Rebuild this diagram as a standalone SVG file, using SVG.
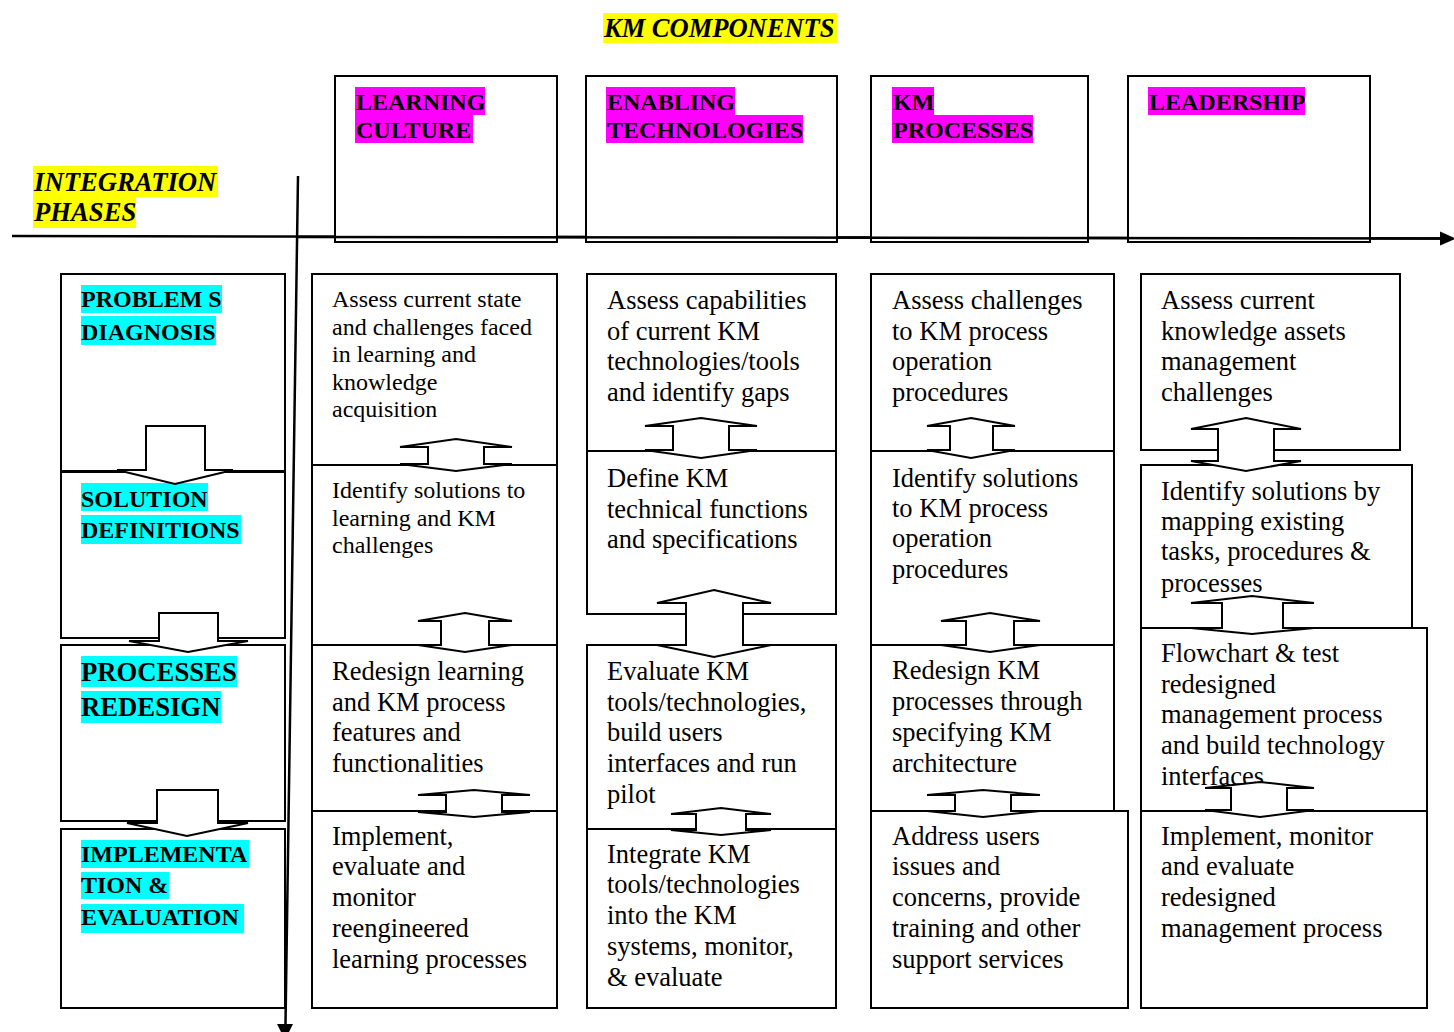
<svg xmlns="http://www.w3.org/2000/svg" width="1454" height="1032" viewBox="0 0 1454 1032" font-family="Liberation Serif, Times New Roman, serif">
<style>
.bx{fill:#fff;stroke:#000;stroke-width:2}
.ar{fill:#fff;stroke:#000;stroke-width:2;stroke-linejoin:miter}
.ax{stroke:#000;stroke-width:2.5;fill:none}
text{font-family:'Liberation Serif',serif;fill:#000}
.t24{font-size:24px}
.t26{font-size:26.5px}
.hb{font-size:24px;font-weight:bold}
.hb26{font-size:26.7px;font-weight:bold}
.bi{font-weight:bold;font-style:italic}
.mg{fill:#ff00ff}
.cy{fill:#00ffff}
.yl{fill:#ffff00}
</style>
<rect width="1454" height="1032" fill="#fff"/>

<g id="title">
<rect class="yl" x="603" y="13" width="234" height="30"/>
<text class="bi" x="604" y="37" font-size="26.5" font-family="Liberation Serif">KM COMPONENTS</text>
</g>
<g id="integration-phases">
<rect class="yl" x="33" y="166" width="185" height="31"/>
<rect class="yl" x="33" y="197" width="103" height="31"/>
<text class="bi" x="34" y="191" font-size="26.7" font-family="Liberation Serif">INTEGRATION</text>
<text class="bi" x="34" y="221" font-size="26.7" font-family="Liberation Serif">PHASES</text>
</g>

<g id="axes">
<line class="ax" x1="12" y1="236" x2="1440" y2="238.5"/>
<path d="M1440,231.5 L1456,238.7 L1440,245.5 Z" fill="#000"/>
<line class="ax" x1="298" y1="176" x2="285.5" y2="1024"/>
<path d="M277,1024 L293,1024 L285,1040 Z" fill="#000"/>
</g>

<g id="hdr-learning-culture">
<rect class="bx" x="335" y="76" width="222" height="166"/>
<rect class="mg" x="355" y="87" width="130" height="28"/>
<rect class="mg" x="355" y="115" width="118" height="28"/>
<text class="hb" x="356" y="110" font-family="Liberation Serif">LEARNING</text>
<text class="hb" x="356" y="138" font-family="Liberation Serif">CULTURE</text>
</g>
<g id="hdr-enabling-technologies">
<rect class="bx" x="586" y="76" width="251" height="166"/>
<rect class="mg" x="606" y="87" width="129" height="28"/>
<rect class="mg" x="606" y="115" width="197" height="28"/>
<text class="hb" x="607" y="110" font-family="Liberation Serif">ENABLING</text>
<text class="hb" x="607" y="138" font-family="Liberation Serif">TECHNOLOGIES</text>
</g>
<g id="hdr-km-processes">
<rect class="bx" x="871" y="76" width="217" height="166"/>
<rect class="mg" x="892" y="87" width="42" height="28"/>
<rect class="mg" x="892" y="115" width="141" height="28"/>
<text class="hb" x="893" y="110" font-family="Liberation Serif">KM</text>
<text class="hb" x="893" y="138" font-family="Liberation Serif">PROCESSES</text>
</g>
<g id="hdr-leadership">
<rect class="bx" x="1128" y="76" width="242" height="166"/>
<rect class="mg" x="1148" y="87" width="157" height="28"/>
<text class="hb" x="1149" y="110" font-family="Liberation Serif">LEADERSHIP</text>
</g>
<line class="ax" x1="298" y1="236.9" x2="1440" y2="238.5"/>

<g id="phase-problems-diagnosis" font-family="Liberation Serif">
<rect class="bx" x="61" y="274" width="224" height="197"/>
<rect class="cy" x="81" y="285" width="141" height="28"/>
<rect class="cy" x="81" y="316" width="135" height="29"/>
<text class="hb" x="81" y="307">PROBLEM S</text>
<text class="hb" x="81" y="340">DIAGNOSIS</text>
</g>
<g id="phase-solution-definitions" font-family="Liberation Serif">
<rect class="bx" x="61" y="472" width="224" height="166"/>
<rect class="cy" x="81" y="483" width="127" height="28"/>
<rect class="cy" x="81" y="515" width="160" height="29"/>
<text class="hb" x="81" y="507">SOLUTION</text>
<text class="hb" x="81" y="538">DEFINITIONS</text>
</g>
<g id="phase-processes-redesign" font-family="Liberation Serif">
<rect class="bx" x="61" y="645" width="224" height="176"/>
<rect class="cy" x="81" y="656" width="156" height="31"/>
<rect class="cy" x="81" y="691" width="140" height="32"/>
<text class="hb26" x="81" y="681">PROCESSES</text>
<text class="hb26" x="81" y="716">REDESIGN</text>
</g>
<g id="phase-implementation-evaluation" font-family="Liberation Serif">
<rect class="bx" x="61" y="829" width="224" height="179"/>
<rect class="cy" x="81" y="840" width="168" height="28"/>
<rect class="cy" x="81" y="872" width="88" height="27"/>
<rect class="cy" x="81" y="904" width="163" height="29"/>
<text class="hb" x="81" y="862">IMPLEMENTA</text>
<text class="hb" x="81" y="893">TION &amp;</text>
<text class="hb" x="81" y="925">EVALUATION</text>
</g>

<g id="lc-1" font-family="Liberation Serif">
<rect class="bx" x="312" y="274" width="245" height="191"/>
<text class="t24" x="332" y="307">Assess current state</text>
<text class="t24" x="332" y="335">and challenges faced</text>
<text class="t24" x="332" y="362">in learning and</text>
<text class="t24" x="332" y="390">knowledge</text>
<text class="t24" x="332" y="417">acquisition</text>
</g>
<g id="lc-2" font-family="Liberation Serif">
<rect class="bx" x="312" y="465" width="245" height="180"/>
<text class="t24" x="332" y="498">Identify solutions to</text>
<text class="t24" x="332" y="525.5">learning and KM</text>
<text class="t24" x="332" y="553">challenges</text>
</g>
<g id="lc-3" font-family="Liberation Serif">
<rect class="bx" x="312" y="645" width="245" height="166"/>
<text class="t26" x="332" y="680">Redesign learning</text>
<text class="t26" x="332" y="711">and KM process</text>
<text class="t26" x="332" y="741">features and</text>
<text class="t26" x="332" y="772">functionalities</text>
</g>
<g id="lc-4" font-family="Liberation Serif">
<rect class="bx" x="312" y="811" width="245" height="197"/>
<text class="t26" x="332" y="845">Implement,</text>
<text class="t26" x="332" y="875">evaluate and</text>
<text class="t26" x="332" y="906">monitor</text>
<text class="t26" x="332" y="937">reengineered</text>
<text class="t26" x="332" y="968">learning processes</text>
</g>

<g id="et-1" font-family="Liberation Serif">
<rect class="bx" x="587" y="274" width="249" height="177"/>
<text class="t26" x="607" y="309">Assess capabilities</text>
<text class="t26" x="607" y="340">of current KM</text>
<text class="t26" x="607" y="370">technologies/tools</text>
<text class="t26" x="607" y="401">and identify gaps</text>
</g>
<g id="et-2" font-family="Liberation Serif">
<rect class="bx" x="587" y="451" width="249" height="163"/>
<text class="t26" x="607" y="487">Define KM</text>
<text class="t26" x="607" y="517.5">technical functions</text>
<text class="t26" x="607" y="548">and specifications</text>
</g>
<g id="et-3" font-family="Liberation Serif">
<rect class="bx" x="587" y="645" width="249" height="184"/>
<text class="t26" x="607" y="680">Evaluate KM</text>
<text class="t26" x="607" y="711">tools/technologies,</text>
<text class="t26" x="607" y="741">build users</text>
<text class="t26" x="607" y="772">interfaces and run</text>
<text class="t26" x="607" y="803">pilot</text>
</g>
<g id="et-4" font-family="Liberation Serif">
<rect class="bx" x="587" y="829" width="249" height="179"/>
<text class="t26" x="607" y="863">Integrate KM</text>
<text class="t26" x="607" y="893">tools/technologies</text>
<text class="t26" x="607" y="924">into the KM</text>
<text class="t26" x="607" y="955">systems, monitor,</text>
<text class="t26" x="607" y="986">&amp; evaluate</text>
</g>

<g id="kmp-1" font-family="Liberation Serif">
<rect class="bx" x="871" y="274" width="243" height="177"/>
<text class="t26" x="892" y="309">Assess challenges</text>
<text class="t26" x="892" y="340">to KM process</text>
<text class="t26" x="892" y="370">operation</text>
<text class="t26" x="892" y="401">procedures</text>
</g>
<g id="kmp-2" font-family="Liberation Serif">
<rect class="bx" x="871" y="451" width="243" height="194"/>
<text class="t26" x="892" y="487">Identify solutions</text>
<text class="t26" x="892" y="517">to KM process</text>
<text class="t26" x="892" y="547">operation</text>
<text class="t26" x="892" y="578">procedures</text>
</g>
<g id="kmp-3" font-family="Liberation Serif">
<rect class="bx" x="871" y="645" width="243" height="166"/>
<text class="t26" x="892" y="679">Redesign KM</text>
<text class="t26" x="892" y="710">processes through</text>
<text class="t26" x="892" y="741">specifying KM</text>
<text class="t26" x="892" y="772">architecture</text>
</g>
<g id="kmp-4" font-family="Liberation Serif">
<rect class="bx" x="871" y="811" width="257" height="197"/>
<text class="t26" x="892" y="845">Address users</text>
<text class="t26" x="892" y="875">issues and</text>
<text class="t26" x="892" y="906">concerns, provide</text>
<text class="t26" x="892" y="937">training and other</text>
<text class="t26" x="892" y="968">support services</text>
</g>

<g id="lead-1" font-family="Liberation Serif">
<rect class="bx" x="1141" y="274" width="259" height="176"/>
<text class="t26" x="1161" y="309">Assess current</text>
<text class="t26" x="1161" y="340">knowledge assets</text>
<text class="t26" x="1161" y="370">management</text>
<text class="t26" x="1161" y="401">challenges</text>
</g>
<g id="lead-2" font-family="Liberation Serif">
<rect class="bx" x="1141" y="465" width="271" height="163"/>
<text class="t26" x="1161" y="500">Identify solutions by</text>
<text class="t26" x="1161" y="530">mapping existing</text>
<text class="t26" x="1161" y="560">tasks, procedures &amp;</text>
<text class="t26" x="1161" y="592">processes</text>
</g>
<g id="lead-3" font-family="Liberation Serif">
<rect class="bx" x="1141" y="628" width="286" height="183"/>
<text class="t26" x="1161" y="662">Flowchart &amp; test</text>
<text class="t26" x="1161" y="693">redesigned</text>
<text class="t26" x="1161" y="723">management process</text>
<text class="t26" x="1161" y="754">and build technology</text>
<text class="t26" x="1161" y="785">interfaces</text>
</g>
<g id="lead-4" font-family="Liberation Serif">
<rect class="bx" x="1141" y="811" width="286" height="197"/>
<text class="t26" x="1161" y="845">Implement, monitor</text>
<text class="t26" x="1161" y="875">and evaluate</text>
<text class="t26" x="1161" y="906">redesigned</text>
<text class="t26" x="1161" y="937">management process</text>
</g>

<g id="connectors">
<polygon class="ar" points="146,426 205,426 205,470 233,470 175,484 117,470 146,470"/>
<polygon class="ar" points="159,613 218,613 218,641 248,641 188,652 129,641 159,641"/>
<polygon class="ar" points="157,790 218,790 218,823 248,823 187,836 127,823 157,823"/>
<polygon class="ar" points="456,439 512,447 484,447 484,464 512,464 456,471 400,464 428,464 428,447 400,447"/>
<polygon class="ar" points="465,613 512,621 489,621 489,645 512,645 465,652 418,645 441,645 441,621 418,621"/>
<polygon class="ar" points="474,790 530,795 502,795 502,812 530,812 474,817 418,812 446,812 446,795 418,795"/>
<polygon class="ar" points="701,418 757,426 729,426 729,450 757,450 701,458 645,450 673,450 673,426 645,426"/>
<polygon class="ar" points="714,590 771,603 743,603 743,645 771,645 714,657 657,645 686,645 686,603 657,603"/>
<polygon class="ar" points="721,808 771,814 746,814 746,830 771,830 721,835 671,830 696,830 696,814 671,814"/>
<polygon class="ar" points="971,418 1015,426 993,426 993,450 1015,450 971,458 927,450 950,450 950,426 927,426"/>
<polygon class="ar" points="990,613 1040,621 1014,621 1014,645 1040,645 990,652 941,645 966,645 966,621 941,621"/>
<polygon class="ar" points="983,790 1040,795 1011,795 1011,811 1040,811 983,817 927,811 955,811 955,795 927,795"/>
<polygon class="ar" points="1246,418 1301,429 1274,429 1274,461 1301,461 1246,471 1191,461 1218,461 1218,429 1191,429"/>
<polygon class="ar" points="1252,596 1314,603 1283,603 1283,628 1314,628 1252,634 1191,628 1222,628 1222,603 1191,603"/>
<polygon class="ar" points="1260,782 1314,788 1287,788 1287,810 1314,810 1260,817 1205,810 1231,810 1231,788 1205,788"/>
</g>
</svg>
